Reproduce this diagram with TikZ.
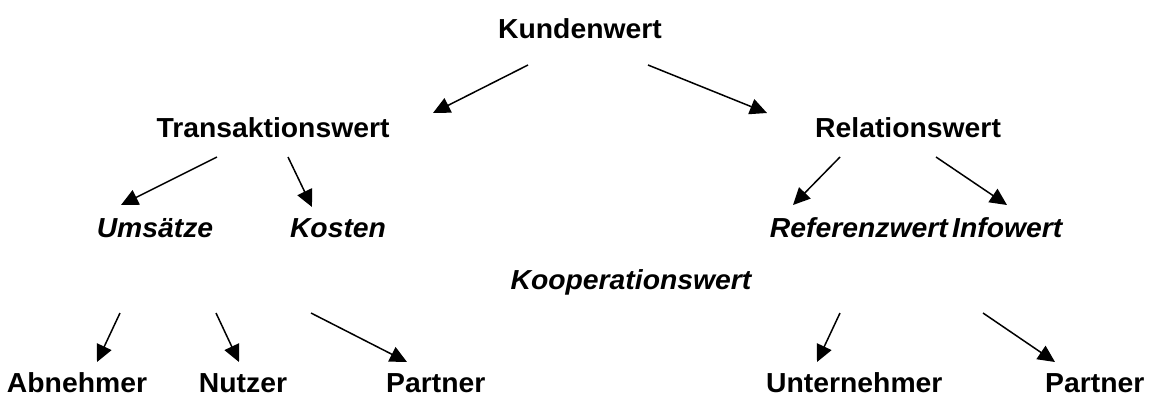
\documentclass[tikz,border=0pt]{standalone}
\usepackage{fontspec}
\setmainfont{Liberation Sans}[FakeStretch=1.03]
\usetikzlibrary{arrows.meta}

\tikzset{
	wert/.style={anchor=base,font=\fontsize{27.5}{31}\selectfont\bfseries,inner sep=0pt},
	teil/.style={wert,font=\fontsize{27.5}{31}\selectfont\bfseries\itshape},
	pfeil/.style={line width=1.5pt,-{Triangle[length=17pt,width=16pt]}}
}

\begin{document}
\begin{tikzpicture}[x=1pt,y=-1pt]
	\useasboundingbox (0,0) rectangle (1157,397);
	
	\node[wert] (kunde) at (580,38) {Kundenwert};
	\node[wert] (trans) at (273,137) {Transaktionswert};
	\node[wert,anchor=base west] (relat) at (815,137) {Relationswert};
	
	\node[teil] (umsatz) at (155,237) {Umsätze};
	\node[teil] (kosten) at (338,237) {Kosten};
	\node[teil,anchor=base east] (referenz) at (948,237) {Referenzwert};
	\node[teil,anchor=base west] (info) at (952,237) {Infowert};
	\node[teil] (koop) at (631,289) {Kooperationswert};
	
	\node[wert] (abnehmer) at (77,392) {Abnehmer};
	\node[wert] (nutzer) at (243,392) {Nutzer};
	\node[wert,anchor=base west] (partnerA) at (386,392) {Partner};
	\node[wert,anchor=base west] (untern) at (766,392) {Unternehmer};
	\node[wert,anchor=base west] (partnerB) at (1045,392) {Partner};
	
	\coordinate (k1) at (528,65);  \coordinate (t0) at (433,113);
	\coordinate (k2) at (648,65);  \coordinate (r0) at (767,113);
	\coordinate (t1) at (217,157); \coordinate (u0) at (121,205);
	\coordinate (t2) at (288,157); \coordinate (c0) at (312,207);
	\coordinate (r1) at (840,157); \coordinate (f0) at (793,205);
	\coordinate (r2) at (936,157); \coordinate (i0) at (1007,205);
	\coordinate (a1) at (120,313); \coordinate (a0) at (97,362);
	\coordinate (n1) at (216,313); \coordinate (n0) at (239,362);
	\coordinate (p1) at (311,313); \coordinate (p0) at (407,362);
	\coordinate (e1) at (840,313); \coordinate (e0) at (817,362);
	\coordinate (q1) at (983,313); \coordinate (q0) at (1055,362);
	
	\draw[pfeil] (k1) -- (t0);
	\draw[pfeil] (k2) -- (r0);
	\draw[pfeil] (t1) -- (u0);
	\draw[pfeil] (t2) -- (c0);
	\draw[pfeil] (r1) -- (f0);
	\draw[pfeil] (r2) -- (i0);
	\draw[pfeil] (a1) -- (a0);
	\draw[pfeil] (n1) -- (n0);
	\draw[pfeil] (p1) -- (p0);
	\draw[pfeil] (e1) -- (e0);
	\draw[pfeil] (q1) -- (q0);
	
\end{tikzpicture}
\end{document}
